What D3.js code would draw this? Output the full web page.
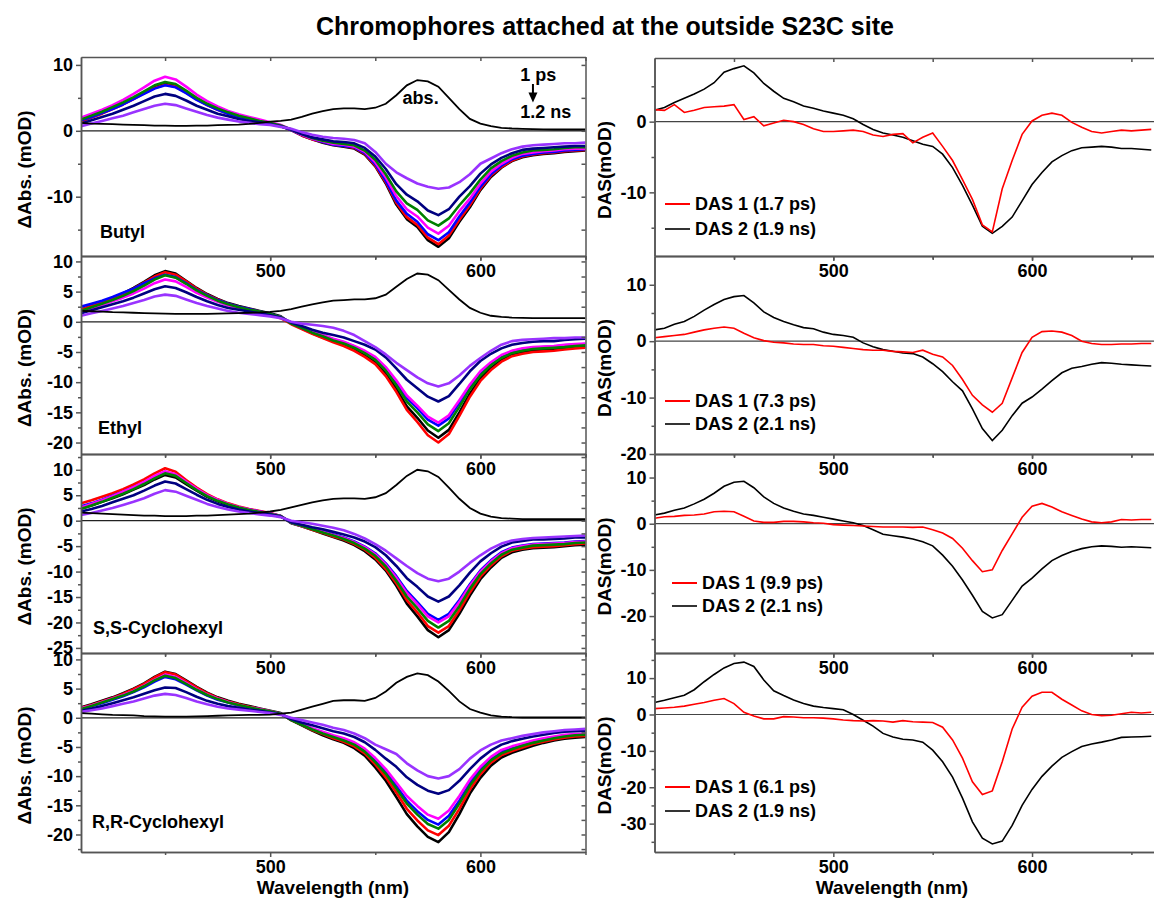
<!DOCTYPE html>
<html lang="en">
<head>
<meta charset="UTF-8">
<title>Chromophores attached at the outside S23C site</title>
<script src="https://cdn.jsdelivr.net/npm/d3@7"></script>
<style>
  body { margin: 0; background: #fff; }
  svg text { font-family: "Liberation Sans", Arial, sans-serif; font-weight: bold; fill: #000; }
  .axis path, .axis line { stroke: #555; stroke-width: 1.5px; }
  .axis text { font: bold 18px "Liberation Sans", Arial, sans-serif; fill: #000; }
  .trace { fill: none; stroke-width: 2.6px; stroke-linejoin: round; }
  .abs { fill: none; stroke: #000; stroke-width: 1.8px; }
  .das { fill: none; stroke-width: 1.6px; }
</style>
</head>
<body>
<svg width="1154" height="900"></svg>
<script>
// wavelength grids (nm)
var wavelengths = [410,415,420,425,430,435,440,445,450,455,460,465,470,475,480,485,490,495,500,505,
  510,515,520,525,530,535,540,545,550,555,560,565,570,575,580,585,590,595,600,605,610,615,620,625,630,635,640,645,650];
var dasWavelengths = [410,415,420,425,430,435,440,445,450,455,460,465,470,475,480,485,490,495,500,505,
  510,515,520,525,530,535,540,545,550,555,560,565,570,575,580,585,590,595,600,605,610,615,620,625,630,635,640,645,650,655,660];

// trace colours, 1 ps -> 1.2 ns
var traceColors = ["#000000", "#ff0000", "#0000ff", "#ff00ff", "#008000", "#000080", "#9933ff"];

// Butyl transient spectra (mOD)
var butylBlack = [1.5,2.1,2.7,3.4,4.1,4.9,5.8,6.8,7.2,6.9,5.9,4.9,4.0,3.3,2.7,2.2,1.9,1.5,1.2,0.8, 0.1,-0.7,-1.3,-1.8,-2.2,-2.4,-2.7,-3.6,-5.4,-8.0,-11.2,-13.4,-14.6,-16.6,-17.6,-16.3,-13.8,-11.6,-9.0,-7.0,-5.6,-4.6,-4.0,-3.7,-3.5,-3.4,-3.2,-3.1,-3.0];
var butylRed = [1.4,2.0,2.6,3.3,4.0,4.8,5.7,6.5,7.0,6.7,5.8,4.8,3.9,3.2,2.6,2.2,1.8,1.5,1.1,0.7, 0.1,-0.7,-1.3,-1.7,-2.1,-2.3,-2.6,-3.5,-5.3,-7.8,-10.9,-13.1,-14.3,-16.2,-17.2,-15.9,-13.5,-11.3,-8.8,-6.8,-5.5,-4.5,-3.9,-3.6,-3.4,-3.3,-3.1,-3.0,-2.9];
var butylBlue = [1.6,2.1,2.7,3.3,4.0,4.8,5.6,6.4,6.9,6.6,5.7,4.7,3.9,3.2,2.6,2.1,1.8,1.4,1.1,0.7, 0.1,-0.6,-1.2,-1.7,-2.1,-2.3,-2.5,-3.4,-5.1,-7.6,-10.6,-12.6,-13.8,-15.7,-16.6,-15.4,-13.0,-10.9,-8.5,-6.6,-5.3,-4.3,-3.8,-3.5,-3.3,-3.2,-3.0,-2.9,-2.8];
var butylMagenta = [2.0,2.6,3.2,3.9,4.7,5.6,6.6,7.6,8.2,7.8,6.7,5.5,4.5,3.7,3.0,2.5,2.1,1.7,1.3,0.9, 0.2,-0.6,-1.2,-1.6,-2.0,-2.1,-2.4,-3.2,-4.8,-7.1,-9.9,-11.9,-13.0,-14.7,-15.6,-14.4,-12.2,-10.3,-8.0,-6.2,-5.0,-4.1,-3.5,-3.3,-3.1,-3.0,-2.8,-2.7,-2.7];
var butylGreen = [1.7,2.3,2.9,3.6,4.3,5.1,6.0,6.9,7.4,7.1,6.1,5.0,4.1,3.4,2.8,2.3,1.9,1.5,1.2,0.8, 0.2,-0.5,-1.1,-1.5,-1.8,-2.0,-2.2,-3.0,-4.4,-6.6,-9.2,-11.0,-12.0,-13.6,-14.4,-13.3,-11.3,-9.5,-7.4,-5.7,-4.6,-3.8,-3.3,-3.0,-2.9,-2.8,-2.6,-2.5,-2.5];
var butylNavy = [1.1,1.6,2.1,2.6,3.2,3.8,4.5,5.2,5.6,5.3,4.6,3.8,3.2,2.6,2.2,1.8,1.5,1.3,1.0,0.7, 0.2,-0.5,-1.0,-1.3,-1.6,-1.7,-1.9,-2.6,-3.9,-5.8,-8.1,-9.7,-10.7,-12.1,-12.8,-11.9,-10.0,-8.4,-6.5,-5.1,-4.1,-3.4,-2.9,-2.7,-2.6,-2.5,-2.4,-2.3,-2.3];
var butylPurple = [0.7,1.1,1.5,1.9,2.3,2.8,3.3,3.8,4.1,3.9,3.4,2.9,2.4,2.0,1.7,1.4,1.2,1.0,0.9,0.6, 0.3,-0.2,-0.6,-0.9,-1.1,-1.2,-1.4,-1.9,-3.2,-5.0,-6.3,-7.2,-8.0,-8.5,-8.8,-8.6,-7.8,-6.6,-5.0,-4.2,-3.4,-2.8,-2.4,-2.2,-2.1,-2.0,-1.9,-1.9,-1.8];
var butylAbs = [1.2,1.1,1.05,1.0,0.95,0.9,0.85,0.8,0.8,0.75,0.75,0.8,0.8,0.85,0.9,0.95,1.05,1.2,1.4,1.5, 1.7,2.1,2.6,3.0,3.3,3.4,3.4,3.3,3.5,4.1,5.4,6.9,7.7,7.5,6.7,5.0,3.3,1.8,1.1,0.7,0.45,0.35,0.3,0.25,0.22,0.2,0.2,0.2,0.2];

// Ethyl
var ethylBlack = [2.0,2.6,3.2,3.9,4.7,5.6,6.6,7.7,8.4,8.0,6.8,5.6,4.6,3.8,3.1,2.6,2.2,1.8,1.4,0.9, -0.3,-1.1,-1.9,-2.6,-3.2,-3.8,-4.6,-5.6,-6.7,-8.6,-11.1,-14.0,-15.9,-18.0,-19.2,-17.9,-15.0,-11.9,-9.4,-7.7,-6.3,-5.5,-5.1,-4.8,-4.7,-4.6,-4.4,-4.2,-4.1];
var ethylRed = [2.0,2.6,3.2,3.9,4.6,5.5,6.5,7.5,8.2,7.8,6.7,5.5,4.5,3.7,3.0,2.5,2.1,1.7,1.2,0.6, -0.4,-1.2,-2.0,-2.7,-3.4,-4.0,-4.8,-5.8,-7.0,-9.0,-11.6,-14.6,-16.6,-18.8,-20.0,-18.6,-15.6,-12.4,-9.8,-8.0,-6.6,-5.7,-5.3,-5.0,-4.9,-4.8,-4.6,-4.4,-4.3];
var ethylBlue = [2.5,3.0,3.5,4.1,4.8,5.5,6.4,7.2,7.8,7.4,6.4,5.3,4.4,3.6,3.0,2.5,2.1,1.7,1.3,0.8, -0.2,-1.0,-1.7,-2.3,-2.9,-3.4,-4.1,-5.0,-6.0,-7.7,-10.0,-12.6,-14.3,-16.2,-17.2,-16.0,-13.4,-10.7,-8.4,-6.9,-5.7,-4.9,-4.5,-4.3,-4.2,-4.1,-3.9,-3.8,-3.7];
var ethylMagenta = [1.7,2.2,2.8,3.4,4.0,4.7,5.5,6.4,7.0,6.7,5.8,4.8,4.0,3.3,2.7,2.3,1.9,1.6,1.2,0.8, -0.2,-0.9,-1.6,-2.2,-2.8,-3.3,-4.0,-4.8,-5.8,-7.5,-9.7,-12.2,-13.9,-15.7,-16.7,-15.5,-13.0,-10.4,-8.2,-6.7,-5.5,-4.8,-4.4,-4.2,-4.1,-4.0,-3.8,-3.7,-3.6];
var ethylGreen = [1.8,2.4,3.0,3.6,4.3,5.1,6.0,7.0,7.7,7.3,6.3,5.2,4.3,3.5,2.9,2.4,2.0,1.7,1.3,0.8, -0.3,-1.0,-1.8,-2.4,-3.1,-3.6,-4.3,-5.2,-6.3,-8.1,-10.5,-13.2,-15.0,-17.0,-18.1,-16.8,-14.1,-11.2,-8.9,-7.2,-6.0,-5.2,-4.8,-4.5,-4.4,-4.3,-4.2,-4.0,-3.9];
var ethylNavy = [1.4,1.9,2.4,2.9,3.4,4.0,4.7,5.4,5.9,5.6,4.9,4.1,3.4,2.8,2.3,2.0,1.7,1.4,1.1,0.7, -0.1,-0.7,-1.3,-1.8,-2.2,-2.6,-3.2,-3.8,-4.6,-5.9,-7.7,-9.6,-11.0,-12.4,-13.2,-12.3,-10.3,-8.2,-6.5,-5.3,-4.4,-3.8,-3.5,-3.3,-3.2,-3.2,-3.0,-2.9,-2.8];
var ethylPurple = [1.0,1.4,1.8,2.2,2.6,3.1,3.6,4.2,4.5,4.3,3.7,3.1,2.6,2.2,1.8,1.5,1.3,1.1,0.9,0.6, 0.0,-0.3,-0.5,-0.7,-1.0,-1.5,-2.2,-3.2,-4.2,-5.4,-6.8,-8.0,-9.2,-10.2,-10.7,-10.2,-8.9,-7.3,-6.0,-4.8,-3.8,-3.2,-3.0,-2.9,-2.8,-2.7,-2.7,-2.6,-2.6];
var ethylAbs = [1.8,1.75,1.7,1.6,1.55,1.5,1.45,1.4,1.35,1.3,1.3,1.3,1.3,1.35,1.4,1.45,1.5,1.55,1.65,1.8, 2.1,2.5,2.9,3.2,3.5,3.6,3.7,3.7,3.9,4.5,5.8,7.1,8.0,7.8,6.9,5.3,3.7,2.3,1.5,1.0,0.8,0.7,0.65,0.6,0.6,0.6,0.6,0.6,0.6];

// S,S-Cyclohexyl
var ssBlack = [2.4,3.0,3.7,4.4,5.2,6.1,7.0,8.1,9.0,8.5,7.2,5.9,4.7,3.8,3.1,2.6,2.1,1.7,1.3,0.9, -0.5,-1.1,-1.8,-2.5,-3.2,-3.9,-4.8,-6.0,-7.6,-9.8,-12.8,-16.3,-18.8,-21.5,-22.9,-21.5,-18.3,-14.7,-11.5,-9.2,-7.3,-6.2,-5.7,-5.4,-5.3,-5.2,-5.0,-4.8,-4.7];
var ssRed = [3.4,4.0,4.7,5.4,6.2,7.1,8.1,9.3,10.3,9.6,8.0,6.5,5.2,4.2,3.4,2.8,2.3,1.9,1.5,0.9, -0.4,-1.1,-1.8,-2.4,-3.1,-3.7,-4.6,-5.7,-7.3,-9.5,-12.3,-15.6,-18.0,-20.7,-22.0,-20.7,-17.6,-14.1,-11.0,-8.8,-7.0,-5.9,-5.5,-5.2,-5.1,-5.0,-4.8,-4.6,-4.5];
var ssBlue = [2.8,3.4,4.1,4.9,5.7,6.6,7.5,8.6,9.5,8.9,7.5,6.1,4.9,4.0,3.2,2.6,2.2,1.8,1.4,0.9, -0.4,-1.0,-1.6,-2.1,-2.7,-3.3,-4.1,-5.1,-6.4,-8.4,-10.9,-13.8,-16.0,-18.3,-19.5,-18.3,-15.6,-12.5,-9.8,-7.8,-6.2,-5.3,-4.9,-4.6,-4.5,-4.4,-4.3,-4.1,-4.0];
var ssMagenta = [2.6,3.3,4.0,4.8,5.7,6.6,7.6,8.8,9.7,9.1,7.7,6.3,5.0,4.1,3.3,2.7,2.2,1.8,1.4,0.9, -0.4,-1.0,-1.6,-2.2,-2.8,-3.4,-4.2,-5.2,-6.6,-8.6,-11.2,-14.2,-16.4,-18.8,-20.0,-18.8,-16.0,-12.8,-10.0,-8.0,-6.4,-5.4,-5.0,-4.7,-4.6,-4.5,-4.4,-4.2,-4.1];
var ssGreen = [2.3,3.0,3.7,4.5,5.3,6.2,7.2,8.3,9.3,8.8,7.4,6.0,4.8,3.9,3.2,2.6,2.1,1.7,1.3,0.9, -0.4,-1.0,-1.7,-2.3,-2.9,-3.6,-4.4,-5.5,-6.9,-9.0,-11.8,-14.9,-17.2,-19.7,-21.0,-19.7,-16.8,-13.4,-10.5,-8.4,-6.7,-5.7,-5.3,-4.9,-4.8,-4.7,-4.6,-4.4,-4.3];
var ssNavy = [1.8,2.3,2.9,3.6,4.3,5.0,5.9,6.9,7.7,7.3,6.2,5.1,4.1,3.3,2.7,2.2,1.8,1.5,1.2,0.8, -0.3,-0.8,-1.3,-1.7,-2.2,-2.7,-3.3,-4.1,-5.2,-6.8,-8.9,-11.3,-13.0,-14.9,-15.9,-14.9,-12.7,-10.2,-8.0,-6.4,-5.1,-4.3,-4.0,-3.7,-3.7,-3.6,-3.5,-3.3,-3.3];
var ssPurple = [1.1,1.5,2.0,2.5,3.1,3.7,4.4,5.3,6.0,5.7,4.9,4.1,3.3,2.7,2.2,1.8,1.5,1.2,1.0,0.7, 0.0,-0.3,-0.6,-1.0,-1.4,-1.9,-2.6,-3.5,-4.6,-5.9,-7.4,-8.9,-10.3,-11.4,-11.9,-11.4,-10.0,-8.3,-6.8,-5.5,-4.5,-3.9,-3.6,-3.4,-3.3,-3.2,-3.1,-3.0,-2.9];
var ssAbs = [1.6,1.5,1.4,1.3,1.2,1.1,1.0,1.0,0.9,0.9,0.9,1.0,1.0,1.1,1.2,1.3,1.4,1.6,1.8,2.1, 2.6,3.1,3.6,4.0,4.3,4.4,4.4,4.3,4.6,5.4,7.0,8.8,10.0,9.7,8.6,6.5,4.3,2.5,1.4,0.8,0.5,0.4,0.3,0.3,0.3,0.3,0.3,0.3,0.3];

// R,R-Cyclohexyl
var rrBlack = [1.8,2.3,2.9,3.5,4.2,5.0,5.9,7.0,7.9,7.5,6.4,5.3,4.3,3.5,2.9,2.4,2.0,1.6,1.2,0.8, -0.4,-1.3,-2.2,-3.0,-3.7,-4.3,-5.2,-6.5,-8.5,-10.8,-13.6,-16.5,-18.6,-20.4,-21.3,-19.6,-16.5,-13.0,-10.3,-8.2,-6.8,-6.0,-5.4,-4.8,-4.3,-3.9,-3.6,-3.4,-3.3];
var rrRed = [1.7,2.2,2.8,3.4,4.1,4.9,5.8,6.9,7.8,7.4,6.3,5.2,4.2,3.4,2.8,2.3,1.9,1.5,1.1,0.7, -0.4,-1.2,-2.1,-2.8,-3.5,-4.1,-4.9,-6.1,-8.0,-10.2,-12.8,-15.6,-17.6,-19.3,-20.1,-18.5,-15.6,-12.3,-9.7,-7.7,-6.4,-5.7,-5.1,-4.5,-4.1,-3.7,-3.4,-3.2,-3.1];
var rrBlue = [1.5,2.0,2.5,3.1,3.7,4.4,5.2,6.2,7.0,6.6,5.7,4.7,3.8,3.1,2.6,2.1,1.7,1.4,1.0,0.7, -0.3,-1.1,-1.9,-2.6,-3.2,-3.7,-4.5,-5.6,-7.3,-9.3,-11.7,-14.2,-16.0,-17.5,-18.3,-16.8,-14.2,-11.2,-8.8,-7.0,-5.8,-5.2,-4.6,-4.1,-3.7,-3.4,-3.1,-2.9,-2.8];
var rrMagenta = [1.6,2.1,2.7,3.3,3.9,4.6,5.5,6.5,7.4,7.0,6.0,4.9,4.0,3.3,2.7,2.2,1.8,1.5,1.1,0.7, -0.3,-1.0,-1.8,-2.4,-3.0,-3.5,-4.2,-5.3,-6.9,-8.8,-11.1,-13.4,-15.1,-16.6,-17.3,-15.9,-13.4,-10.6,-8.4,-6.7,-5.5,-4.9,-4.4,-3.9,-3.5,-3.2,-2.9,-2.8,-2.7];
var rrGreen = [1.5,2.0,2.6,3.2,3.8,4.5,5.4,6.4,7.2,6.8,5.8,4.8,3.9,3.2,2.6,2.2,1.8,1.4,1.1,0.7, -0.4,-1.2,-2.0,-2.7,-3.3,-3.9,-4.6,-5.8,-7.6,-9.6,-12.1,-14.7,-16.6,-18.2,-19.0,-17.5,-14.7,-11.6,-9.2,-7.3,-6.1,-5.4,-4.8,-4.3,-3.9,-3.5,-3.2,-3.0,-2.9];
var rrNavy = [1.2,1.6,2.0,2.5,3.0,3.5,4.1,4.7,5.2,5.1,4.4,3.6,2.9,2.4,2.0,1.7,1.4,1.2,0.9,0.6, -0.2,-0.8,-1.3,-1.8,-2.3,-2.7,-3.3,-4.2,-5.5,-7.0,-8.4,-10.2,-11.5,-12.5,-13.0,-12.4,-10.8,-8.8,-7.0,-5.6,-4.6,-4.0,-3.6,-3.2,-2.9,-2.6,-2.4,-2.3,-2.2];
var rrPurple = [1.0,1.3,1.6,2.0,2.4,2.8,3.3,3.8,4.1,3.9,3.4,2.8,2.3,1.9,1.6,1.4,1.2,1.0,0.8,0.5, 0.0,-0.4,-0.8,-1.2,-1.7,-2.1,-2.7,-3.5,-4.6,-5.4,-6.2,-7.8,-9.0,-10.0,-10.4,-10.0,-8.8,-7.0,-5.6,-4.6,-3.9,-3.5,-3.1,-2.8,-2.5,-2.3,-2.1,-2.0,-1.9];
var rrAbs = [0.8,0.7,0.6,0.5,0.45,0.4,0.3,0.25,0.2,0.2,0.2,0.25,0.3,0.35,0.4,0.45,0.5,0.5,0.55,0.7, 0.9,1.4,1.9,2.4,2.9,3.0,3.0,2.9,3.4,4.5,6.0,7.0,7.6,7.3,6.2,4.6,2.8,1.5,0.9,0.4,0.2,0.1,0.05,0.05,0.05,0.05,0.05,0.05,0.05];

// decay-associated spectra (mOD)
var das1Butyl = [1.7,1.6,2.4,1.3,1.6,2.0,2.1,2.2,2.4,0.3, 0.7,-0.6,-0.2,0.2,0.0,-0.4,-1.0,-1.4,-1.4,-1.3, -1.2,-1.4,-1.9,-2.1,-1.8,-1.7,-3.0,-2.2,-1.6,-3.5, -5.5,-8.2,-11.0,-14.6,-15.6,-9.5,-5.5,-1.8,0.1,0.9, 1.2,0.9,-0.1,-0.8,-1.4,-1.6,-1.4,-1.2,-1.3,-1.2, -1.1];
var das2Butyl = [1.6,2.0,2.7,3.3,3.9,4.6,5.5,7.0,7.5,7.9, 6.9,5.4,4.3,3.3,2.8,2.2,1.9,1.5,1.2,0.9, 0.4,-0.4,-1.1,-1.6,-1.9,-2.2,-2.7,-3.2,-3.5,-4.6, -6.5,-9.0,-11.8,-14.8,-15.8,-14.8,-13.5,-11.2,-8.9,-7.2, -5.7,-4.8,-4.1,-3.7,-3.6,-3.5,-3.6,-3.8,-3.8,-3.9, -4.0];
var das1Ethyl = [0.6,0.8,1.0,1.2,1.6,2.0,2.3,2.5,2.3,1.4, 0.6,0.1,-0.2,-0.3,-0.5,-0.6,-0.6,-0.8,-0.9,-1.1, -1.3,-1.5,-1.6,-1.6,-1.8,-1.9,-2.0,-1.6,-2.3,-2.8, -4.3,-6.8,-9.6,-11.3,-12.6,-11.0,-6.5,-2.0,0.7,1.7, 1.8,1.6,1.0,0.0,-0.4,-0.6,-0.6,-0.5,-0.5,-0.4, -0.4];
var das2Ethyl = [2.0,2.3,3.0,3.5,4.4,5.5,6.5,7.4,7.9,8.1, 6.8,5.2,4.2,3.5,2.9,2.4,2.2,1.6,1.2,1.0, 0.7,-0.3,-1.0,-1.5,-1.8,-2.1,-2.2,-2.8,-4.0,-5.4, -7.2,-8.8,-12.0,-15.5,-17.6,-15.8,-13.2,-11.0,-9.9,-8.5, -7.0,-5.6,-4.8,-4.5,-4.1,-3.8,-3.9,-4.1,-4.2,-4.3, -4.4];
var das1Ss = [1.2,1.5,1.6,1.8,1.9,2.1,2.6,2.7,2.6,1.6, 0.6,0.3,0.3,0.5,0.5,0.4,0.2,0.1,-0.2,-0.3, -0.4,-0.5,-0.6,-0.7,-0.7,-0.7,-0.8,-0.7,-1.3,-2.0, -3.2,-5.3,-8.0,-10.4,-10.0,-5.8,-2.2,1.4,3.8,4.4, 3.6,2.6,1.8,1.0,0.4,0.2,0.4,0.9,0.8,0.9, 0.9];
var das2Ss = [1.9,2.3,2.9,3.4,4.3,5.3,6.6,8.1,9.0,9.2, 7.8,5.8,4.4,3.4,2.7,2.1,1.8,1.4,1.0,0.6, 0.2,-0.4,-1.3,-2.3,-2.6,-2.9,-3.3,-3.9,-4.8,-6.8, -9.2,-12.2,-15.5,-19.0,-20.4,-19.7,-16.6,-13.5,-11.8,-9.8, -8.0,-6.9,-6.0,-5.4,-5.0,-4.8,-4.9,-5.1,-5.0,-5.1, -5.2];
var das1Rr = [1.6,1.8,2.0,2.3,2.8,3.3,3.9,4.4,3.0,0.6, -0.4,-1.2,-1.2,-0.6,-0.7,-0.9,-0.9,-1.0,-1.2,-1.5, -1.7,-1.8,-1.7,-1.8,-2.1,-1.7,-2.0,-2.1,-2.2,-3.5, -7.0,-12.0,-18.5,-22.0,-21.0,-13.0,-4.0,2.0,5.0,6.1, 6.1,4.2,2.6,1.0,0.0,-0.3,-0.2,0.2,0.6,0.4, 0.6];
var das2Rr = [3.3,3.9,4.6,5.3,6.8,9.0,11.0,12.8,14.0,14.4, 13.2,9.5,6.5,5.2,4.0,3.0,2.3,1.9,1.6,1.3, 0.0,-1.6,-3.2,-5.2,-6.2,-6.8,-7.0,-7.6,-9.8,-13.0, -17.2,-23.0,-29.5,-34.0,-35.6,-34.8,-30.5,-25.0,-20.6,-17.0, -14.2,-11.8,-10.2,-8.8,-8.1,-7.6,-7.0,-6.3,-6.2,-6.1, -6.0];

var butylDasLabels = ["DAS 1 (1.7 ps)", "DAS 2 (1.9 ns)"];
var ethylDasLabels = ["DAS 1 (7.3 ps)", "DAS 2 (2.1 ns)"];
var ssDasLabels = ["DAS 1 (9.9 ps)", "DAS 2 (2.1 ns)"];
var rrDasLabels = ["DAS 1 (6.1 ps)", "DAS 2 (1.9 ns)"];

var svg = d3.select("svg");

var xLeft = d3.scaleLinear().domain([410, 650]).range([81, 585.5]);
var xRight = d3.scaleLinear().domain([410, 665]).range([654.5, 1161.2]);

var leftPanels = [
  {id: "b", name: "Butyl", top: 57, bottom: 256, domain: [-19, 11.2], major: [10, 0, -10], minor: [5, -5, -15],
   traces: [butylBlack, butylRed, butylBlue, butylMagenta, butylGreen, butylNavy, butylPurple], abs: butylAbs, lx: 100, ly: 238},
  {id: "e", name: "Ethyl", top: 256, bottom: 454, domain: [-21.9, 10.9], major: [10, 5, 0, -5, -10, -15, -20], minor: [7.5, 2.5, -2.5, -7.5, -12.5, -17.5],
   traces: [ethylBlack, ethylRed, ethylBlue, ethylMagenta, ethylGreen, ethylNavy, ethylPurple], abs: ethylAbs, lx: 98, ly: 434},
  {id: "s", name: "S,S-Cyclohexyl", top: 454, bottom: 653, domain: [-26, 13.1], major: [10, 5, 0, -5, -10, -15, -20, -25], minor: [12.5, 7.5, 2.5, -2.5, -7.5, -12.5, -17.5, -22.5],
   traces: [ssBlack, ssRed, ssBlue, ssMagenta, ssGreen, ssNavy, ssPurple], abs: ssAbs, lx: 93, ly: 634},
  {id: "r", name: "R,R-Cyclohexyl", top: 653, bottom: 852, domain: [-23, 11.1], major: [10, 5, 0, -5, -10, -15, -20], minor: [7.5, 2.5, -2.5, -7.5, -12.5, -17.5, -22.5],
   traces: [rrBlack, rrRed, rrBlue, rrMagenta, rrGreen, rrNavy, rrPurple], abs: rrAbs, lx: 92, ly: 828}
];

var rightPanels = [
  {id: "db", top: 58, bottom: 256, domain: [-19, 9.0], major: [0, -10], minor: [5, -5, -15],
   das: [das1Butyl, das2Butyl], labels: butylDasLabels, legX: 665, legY: [146, 171]},
  {id: "de", top: 256, bottom: 454, domain: [-20, 15.1], major: [10, 0, -10, -20], minor: [5, -5, -15],
   das: [das1Ethyl, das2Ethyl], labels: ethylDasLabels, legX: 665, legY: [145, 168]},
  {id: "ds", top: 454, bottom: 653, domain: [-28, 15.1], major: [10, 0, -10, -20], minor: [5, -5, -15, -25],
   das: [das1Ss, das2Ss], labels: ssDasLabels, legX: 672, legY: [129, 152]},
  {id: "dr", top: 653, bottom: 852, domain: [-37.8, 16.9], major: [10, 0, -10, -20, -30], minor: [15, 5, -5, -15, -25, -35],
   das: [das1Rr, das2Rr], labels: rrDasLabels, legX: 665, legY: [134, 158]}
];

var defs = svg.append("defs");

function frame(p, x, y, inner) {
  var x0 = x.range()[0], x1 = x.range()[1];
  var ax = svg.append("g").attr("class", "axis");
  ax.append("g").attr("transform", "translate(" + x0 + ",0)")
    .call(d3.axisLeft(y).tickValues(p.major).tickSize(5).tickSizeOuter(0).tickPadding(3).tickFormat(function(d) { return d; }));
  ax.append("g").attr("transform", "translate(" + x0 + ",0)")
    .call(d3.axisLeft(y).tickValues(p.minor).tickSize(3).tickSizeOuter(0).tickFormat(""));
  ax.append("g").attr("transform", "translate(0," + p.bottom + ")")
    .call(d3.axisBottom(x).tickValues([500, 600]).tickSize(5).tickSizeOuter(0).tickPadding(3).tickFormat(function(d) { return d; }));
  ax.append("g").attr("transform", "translate(0," + p.bottom + ")")
    .call(d3.axisBottom(x).tickValues([450, 550, 650]).tickSize(3).tickSizeOuter(0).tickFormat(""));
  ax.append("g").attr("transform", "translate(0," + p.top + ")")
    .call(d3.axisTop(x).tickValues([450, 500, 550, 600, 650]).tickSize(-4).tickSizeOuter(0).tickFormat(""));
  if (inner) {
    ax.append("g").attr("transform", "translate(" + x1 + ",0)")
      .call(d3.axisRight(y).tickValues(p.major.concat(p.minor)).tickSize(-4).tickSizeOuter(0).tickFormat(""));
  }
}

function plotArea(p, x) {
  var x0 = x.range()[0], x1 = x.range()[1];
  defs.append("clipPath").attr("id", "clip-" + p.id)
    .append("rect").attr("x", x0).attr("y", p.top).attr("width", x1 - x0).attr("height", p.bottom - p.top);
  return svg.append("g").attr("clip-path", "url(#clip-" + p.id + ")");
}

// left column: transient absorption
leftPanels.forEach(function(p) {
  var y = d3.scaleLinear().domain(p.domain).range([p.bottom, p.top]);
  var g = plotArea(p, xLeft);
  var line = d3.line().x(function(d, i) { return xLeft(wavelengths[i]); }).y(function(d) { return y(d); });

  g.append("line").attr("x1", xLeft.range()[0]).attr("x2", xLeft.range()[1])
    .attr("y1", y(0)).attr("y2", y(0)).attr("stroke", "#222").attr("stroke-width", 1.2);

  p.traces.forEach(function(t, k) {
    g.append("path").datum(t).attr("class", "trace").attr("stroke", traceColors[k]).attr("d", line);
  });
  g.append("path").datum(p.abs).attr("class", "abs").attr("d", line);

  frame(p, xLeft, y, true);

  svg.append("text").attr("x", p.lx).attr("y", p.ly).attr("font-size", 18).text(p.name);
  svg.append("text")
    .attr("transform", "translate(31," + ((p.top + p.bottom) / 2 + 13) + ") rotate(-90)")
    .attr("text-anchor", "middle").attr("font-size", 19).text("\u0394Abs. (mOD)");

  if (p.id === "b") {
    svg.append("text").attr("x", xLeft(563)).attr("y", y(4)).attr("font-size", 18).text("abs.");
    svg.append("text").attr("x", xLeft(619)).attr("y", y(7.6)).attr("font-size", 18).text("1 ps");
    svg.append("text").attr("x", xLeft(619)).attr("y", y(1.9)).attr("font-size", 18).text("1.2 ns");
    var ax = xLeft(625);
    svg.append("line").attr("x1", ax).attr("x2", ax).attr("y1", y(7.1)).attr("y2", y(5.6))
      .attr("stroke", "#000").attr("stroke-width", 2);
    svg.append("path")
      .attr("d", "M" + (ax - 4.5) + "," + y(5.8) + "L" + (ax + 4.5) + "," + y(5.8) + "L" + ax + "," + y(4.3) + "Z")
      .attr("fill", "#000");
  }
});

// right column: decay-associated spectra
var dasColors = ["#ff0000", "#000000"];
rightPanels.forEach(function(p) {
  var y = d3.scaleLinear().domain(p.domain).range([p.bottom, p.top]);
  var g = plotArea(p, xRight);
  var line = d3.line().x(function(d, i) { return xRight(dasWavelengths[i]); }).y(function(d) { return y(d); });

  g.append("line").attr("x1", xRight.range()[0]).attr("x2", xRight.range()[1])
    .attr("y1", y(0)).attr("y2", y(0)).attr("stroke", "#444").attr("stroke-width", 1.2);

  [1, 0].forEach(function(k) {
    g.append("path").datum(p.das[k]).attr("class", "das").attr("stroke", dasColors[k]).attr("d", line);
  });

  frame(p, xRight, y, false);

  p.labels.forEach(function(lab, k) {
    var ly = p.top + p.legY[k];
    svg.append("line").attr("x1", p.legX).attr("x2", p.legX + 25).attr("y1", ly).attr("y2", ly)
      .attr("stroke", dasColors[k]).attr("stroke-width", k === 0 ? 2 : 1.6);
    svg.append("text").attr("x", p.legX + 30).attr("y", ly).attr("dy", "0.36em").attr("font-size", 18).text(lab);
  });

  svg.append("text")
    .attr("transform", "translate(611," + ((p.top + p.bottom) / 2 + 13) + ") rotate(-90)")
    .attr("text-anchor", "middle").attr("font-size", 19).text("DAS(mOD)");
});

svg.append("text").attr("x", 333).attr("y", 894).attr("text-anchor", "middle").attr("font-size", 19).text("Wavelength (nm)");
svg.append("text").attr("x", 892).attr("y", 894).attr("text-anchor", "middle").attr("font-size", 19).text("Wavelength (nm)");

svg.append("text").attr("x", 605).attr("y", 35).attr("text-anchor", "middle").attr("font-size", 25)
  .text("Chromophores attached at the outside S23C site");
</script>
</body>
</html>
